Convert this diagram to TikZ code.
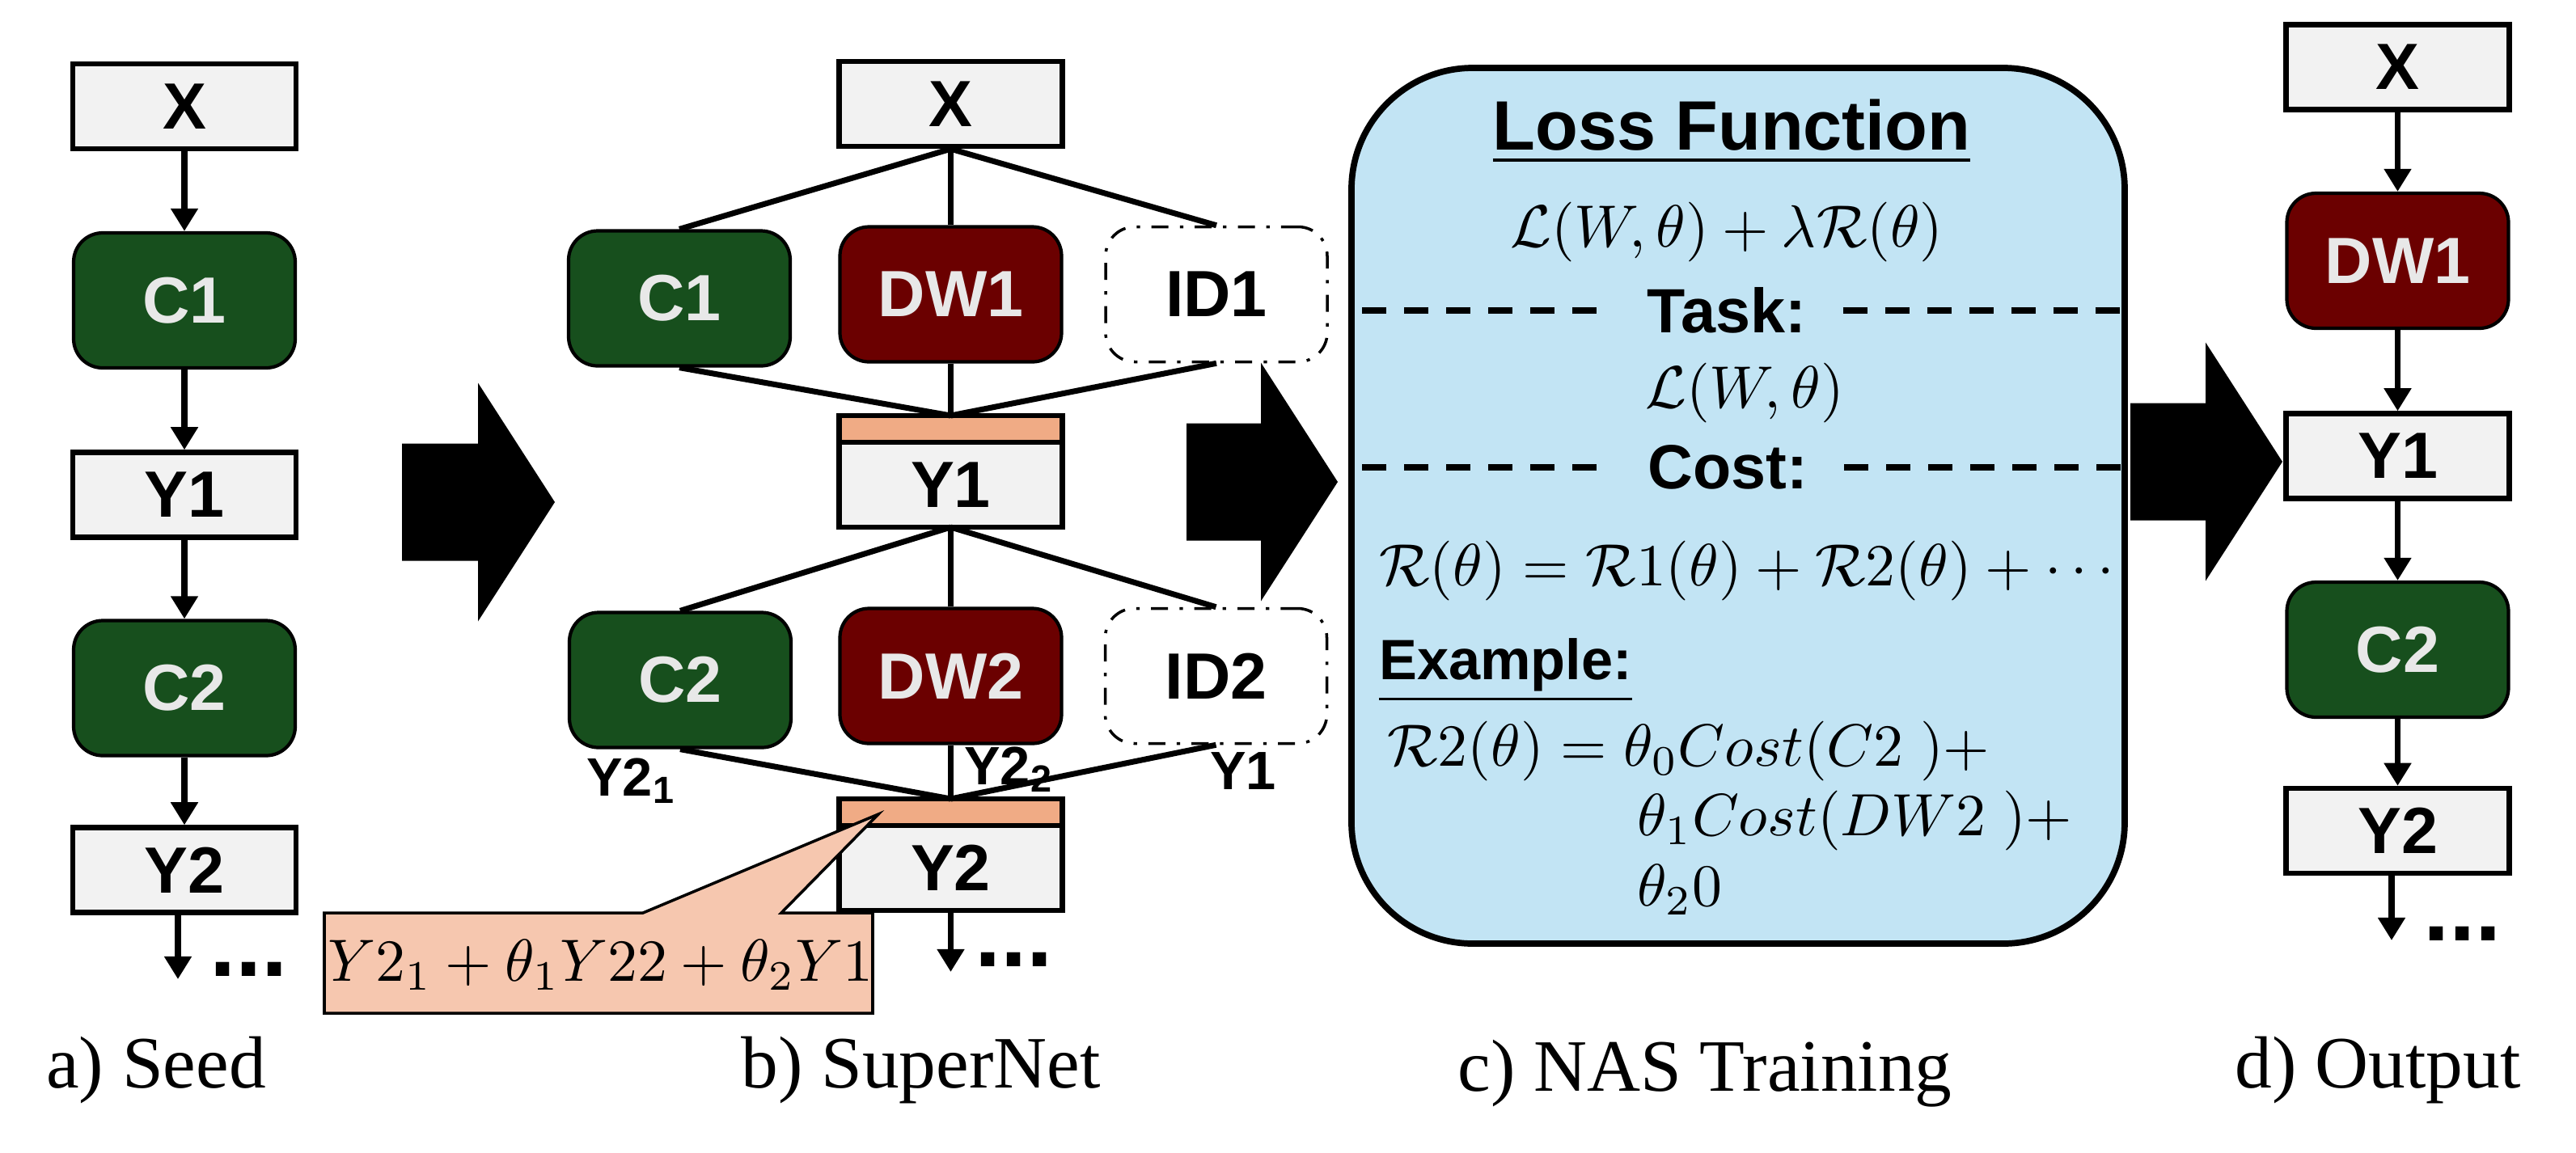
\RequirePackage{fix-cm}
\documentclass[tikz,border=0pt]{standalone}
\usepackage{amsmath,amssymb}
\usepackage{fontspec}
\usepackage{xcolor}
\usepackage{tikz}
\usetikzlibrary{calc,arrows.meta}
\newfontfamily\lblfamily{Liberation Sans}
\newfontfamily\capfamily{Liberation Serif}
\definecolor{tensorbg}{HTML}{F2F2F2}
\definecolor{convgreen}{HTML}{174F1D}
\definecolor{dwred}{HTML}{6B0000}
\definecolor{optext}{HTML}{E8E8E8}
\definecolor{barorange}{HTML}{F0AB85}
\definecolor{notebg}{HTML}{F6C7AF}
\definecolor{lossbg}{HTML}{C2E4F4}
\tikzset{
  tensor/.style={draw, line width=0.9pt, fill=tensorbg, minimum width=1.38cm, minimum height=0.525cm, inner sep=0pt, font=\lblfamily\bfseries\fontsize{11.5}{13}\selectfont},
  opbox/.style={draw, line width=0.6pt, rounded corners=0.18cm, minimum width=1.37cm, minimum height=0.835cm, inner sep=0pt, text=optext, font=\lblfamily\bfseries\fontsize{11.5}{13}\selectfont},
  conv/.style={opbox, fill=convgreen},
  dwconv/.style={opbox, fill=dwred},
  ident/.style={opbox, dash dot, line width=0.5pt, fill=white, text=black},
  mixbar/.style={draw, line width=0.9pt, fill=barorange, minimum width=1.38cm, minimum height=0.165cm, inner sep=0pt, outer sep=0pt},
  flow/.style={line width=1.1pt, -{Triangle[width=4.6pt,length=4pt]}},
  wire/.style={line width=1pt},
  sublab/.style={inner sep=0pt, font=\lblfamily\bfseries\fontsize{9.5}{11}\selectfont},
  ellip/.style={inner sep=0pt, font=\lblfamily\bfseries\fontsize{16.5}{17}\selectfont},
  subcap/.style={inner sep=0pt, anchor=base, font=\capfamily\fontsize{13}{15}\selectfont},
  notebox/.style={fill=notebg, draw, line width=0.5pt},
  lossbox/.style={draw, line width=1.1pt, fill=lossbg, rounded corners=0.75cm, minimum width=4.78cm, minimum height=5.415cm},
  losshead/.style={inner sep=0pt, font=\lblfamily\bfseries\fontsize{12.3}{14}\selectfont},
  losssub/.style={inner sep=0pt, font=\lblfamily\bfseries\fontsize{11}{13}\selectfont},
  exhead/.style={inner sep=0pt, font=\lblfamily\bfseries\fontsize{10}{12}\selectfont},
  mth/.style={inner sep=0pt, font=\fontsize{10.5}{12}\selectfont},
  divider/.style={line width=1.2pt, dash pattern=on 0.15cm off 0.11cm},
}

\begin{document}
\begin{tikzpicture}[x=0.5cm, y=-0.5cm]
  \useasboundingbox (0,0) rectangle (31.85,14.25);

  % a) seed network
  \node[tensor] (aX) at (2.28,1.315) {X};
  \node[conv] (aC1) at (2.28,3.715) {C1};
  \node[tensor] (aY1) at (2.28,6.12) {Y1};
  \node[conv] (aC2) at (2.28,8.51) {C2};
  \node[tensor] (aY2) at (2.28,10.76) {Y2};
  \coordinate (aEnd) at (2.20,12.11);
  \draw[flow] (aX) -- (aC1);
  \draw[flow] (aC1) -- (aY1);
  \draw[flow] (aY1) -- (aC2);
  \draw[flow] (aC2) -- (aY2);
  \draw[flow] (aY2.south -| aEnd) -- (aEnd);
  \node[ellip, anchor=base west] (aDots) at (2.58,12.07) {...};
  \node[subcap] (aCap) at (1.93,13.45) {a) Seed};

  % big arrows between the stages
  \fill (4.97,5.485) -- ++(0.94,0) -- ++(0,-0.75) -- ++(0.95,1.475) -- ++(-0.95,1.475) -- ++(0,-0.75) -- ++(-0.94,0) -- cycle;
  \fill (14.67,5.235) -- ++(0.92,0) -- ++(0,-0.75) -- ++(0.95,1.475) -- ++(-0.95,1.475) -- ++(0,-0.75) -- ++(-0.92,0) -- cycle;
  \fill (26.34,4.985) -- ++(0.93,0) -- ++(0,-0.75) -- ++(0.95,1.475) -- ++(-0.95,1.475) -- ++(0,-0.75) -- ++(-0.93,0) -- cycle;

  % b) supernet
  \node[tensor] (bX) at (11.755,1.285) {X};
  \node[conv] (bC1) at (8.40,3.69) {C1};
  \node[dwconv] (bDW1) at (11.755,3.64) {DW1};
  \node[ident] (bID1) at (15.04,3.64) {ID1};
  \node[mixbar] (bMix1) at (11.755,5.305) {};
  \node[tensor, outer sep=0pt, anchor=north] (bY1) at (bMix1.south) {Y1};
  \node[conv] (bC2) at (8.41,8.41) {C2};
  \node[dwconv] (bDW2) at (11.755,8.36) {DW2};
  \node[ident] (bID2) at (15.035,8.36) {ID2};
  \node[mixbar] (bMix2) at (11.755,10.045) {};
  \node[tensor, outer sep=0pt, anchor=north] (bY2) at (bMix2.south) {Y2};

  \draw[wire] (bX.south) -- (bC1.north);
  \draw[wire] (bX.south) -- (bDW1.north);
  \draw[wire] (bX.south) -- (bID1.north);
  \draw[wire] (bC1.south) -- (bMix1.north);
  \draw[wire] (bDW1.south) -- (bMix1.north);
  \draw[wire] (bID1.south) -- (bMix1.north);
  \draw[wire] (bY1.south) -- (bC2.north);
  \draw[wire] (bY1.south) -- (bDW2.north);
  \draw[wire] (bY1.south) -- (bID2.north);
  \draw[wire] (bC2.south) -- (bMix2.north);
  \draw[wire] (bDW2.south) -- (bMix2.north);
  \draw[wire] (bID2.south) -- (bMix2.north);

  \node[sublab, anchor=base west] (bOut1) at (7.24,9.84) {Y2\textsubscript{1}};
  \node[sublab, anchor=base west] (bOut2) at (11.91,9.70) {Y2\textsubscript{2}};
  \node[sublab, anchor=base west] (bOut3) at (14.95,9.76) {Y1};

  \coordinate (bEnd) at (11.755,12.02);
  \draw[flow] (bY2.south) -- (bEnd);
  \node[ellip, anchor=base west] (bDots) at (12.04,11.95) {...};

  % callout for the mixed output
  \coordinate (noteNW) at (4.01,11.29);
  \coordinate (noteSE) at (10.79,12.53);
  \coordinate (noteTip) at (10.86,10.07);
  \filldraw[notebox] (noteNW) -- (7.95,11.29) -- (noteTip) -- (9.66,11.29) -- (noteSE |- noteNW) -- (noteSE) -- (noteNW |- noteSE) -- cycle;
  \node[mth, anchor=base west] (bNote) at (4.04,12.13) {$Y2_1+\theta_1Y22+\theta_2Y1$};
  \node[subcap] (bCap) at (11.385,13.45) {b) SuperNet};

  % c) loss function box
  \node[lossbox] (loss) at (21.49,6.255) {};
  \node[losshead, anchor=base] (lossTitle) at (21.41,1.85) {\underline{Loss Function}};
  \node[mth] (lossAll) at (21.35,2.87) {$\mathcal{L}(W,\theta)+\lambda\mathcal{R}(\theta)$};
  \node[losssub] (task) at (21.35,3.84) {Task:};
  \draw[divider] ([xshift=0.085cm]loss.west |- task) -- ([xshift=-0.2cm]task.west);
  \draw[divider] ([xshift=0.22cm]task.east) -- (loss.east |- task);
  \node[mth] (lossTask) at (21.57,4.86) {$\mathcal{L}(W,\theta)$};
  \node[losssub] (cost) at (21.36,5.78) {Cost:};
  \draw[divider] ([xshift=0.085cm]loss.west |- cost) -- ([xshift=-0.2cm]cost.west);
  \draw[divider] ([xshift=0.22cm]cost.east) -- (loss.east |- cost);
  \node[mth, anchor=base west] (costSum) at (17.04,7.24) {$\mathcal{R}(\theta)=\mathcal{R}1(\theta)+\mathcal{R}2(\theta)+\cdots$};
  \node[exhead, anchor=base west] (example) at (17.04,8.40) {\underline{Example:}};
  \node[mth, anchor=base west] (costC2) at (17.14,9.47) {$\mathcal{R}2(\theta)=\theta_0Cost(C2\;)+$};
  \node[mth, anchor=base west] (costDW2) at (20.23,10.33) {$\theta_1Cost(DW2\;)+$};
  \node[mth, anchor=base west] (costID2) at (20.23,11.20) {$\theta_20$};
  \node[subcap] (cCap) at (21.08,13.49) {c) NAS Training};

  % d) output network
  \node[tensor] (dX) at (29.645,0.83) {X};
  \node[dwconv] (dDW1) at (29.645,3.225) {DW1};
  \node[tensor] (dY1) at (29.645,5.64) {Y1};
  \node[conv] (dC2) at (29.645,8.035) {C2};
  \node[tensor] (dY2) at (29.645,10.275) {Y2};
  \coordinate (dEnd) at (29.57,11.63);
  \draw[flow] (dX) -- (dDW1);
  \draw[flow] (dDW1) -- (dY1);
  \draw[flow] (dY1) -- (dC2);
  \draw[flow] (dC2) -- (dY2);
  \draw[flow] (dY2.south -| dEnd) -- (dEnd);
  \node[ellip, anchor=base west] (dDots) at (29.95,11.63) {...};
  \node[subcap] (dCap) at (29.40,13.45) {d) Output};
\end{tikzpicture}
\end{document}
